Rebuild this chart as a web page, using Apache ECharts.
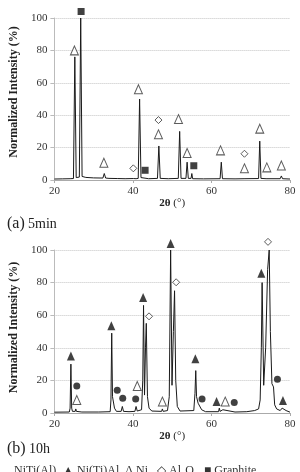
<!DOCTYPE html>
<html>
<head>
<meta charset="utf-8">
<script src="https://cdn.jsdelivr.net/npm/echarts@6/dist/echarts.min.js"></script>
<style>
  html, body { margin: 0; padding: 0; background: #fff; }
  #chart { width: 300px; height: 472px; }
</style>
</head>
<body>
<div id="chart"></div>
<script>
// pattern (a) 5 min : [2theta, intensity %]
const scan5min = [
  [20, 0.6], [22, 0.7], [24, 0.8], [24.85, 0.9], [25.2, 76], [25.55, 1.5], [26.35, 1.8],
  [26.7, 100], [27.05, 2.2], [28, 1.6], [30, 1.3], [32.35, 1.2], [32.7, 4], [33.05, 1.2],
  [33.9, 1], [34.1, 1.8], [34.3, 1], [36, 0.9], [38, 0.8], [40.2, 0.9], [40.5, 2], [40.8, 0.8],
  [41.35, 1], [41.7, 50], [42.05, 1.5], [44, 0.8], [46.25, 1], [46.6, 21], [46.95, 1],
  [49, 0.8], [51.55, 1], [51.9, 30], [52.25, 1], [53.5, 1], [53.8, 11], [54.1, 1],
  [54.8, 1], [55.0, 4], [55.2, 0.8], [58, 0.7], [62.2, 0.8], [62.5, 11], [62.8, 0.8],
  [66, 0.7], [68.3, 0.8], [68.5, 1.5], [68.7, 0.8], [72.0, 0.9], [72.3, 24], [72.6, 1],
  [73.9, 0.8], [74.1, 2], [74.3, 0.8], [77.5, 0.8], [77.8, 2.5], [78.1, 0.8], [80, 0.6]
];

// pattern (b) 10 h
const scan10h = [
  [20, 0.5], [23.8, 0.6], [24.0, 3], [24.2, 30], [24.4, 3], [24.6, 1], [25.3, 1], [25.45, 2.5],
  [25.6, 1], [27, 0.6], [31.3, 0.6], [31.5, 1.2], [31.7, 0.5], [34.2, 0.8], [34.4, 8],
  [34.6, 49], [34.8, 10], [35.0, 9], [35.3, 3], [35.8, 1], [37.0, 1], [37.3, 4], [37.6, 1],
  [39, 0.8], [40.5, 1], [40.8, 4], [41.1, 1.2], [42.2, 2], [42.5, 20], [42.7, 66], [42.95, 11],
  [43.2, 40], [43.4, 55], [43.7, 10], [44.1, 3], [44.8, 1.2], [47.3, 1], [47.5, 2.5], [47.7, 1],
  [48.8, 1.5], [49.25, 10], [49.6, 100], [49.95, 17], [50.3, 50], [50.6, 75], [50.9, 20],
  [51.3, 4], [52, 1.2], [55.5, 1.5], [55.8, 12], [56.0, 26], [56.2, 10], [56.6, 6], [57.1, 5],
  [57.5, 2], [58.5, 0.8], [61.8, 0.8], [62.0, 3], [62.2, 1], [62.7, 0.8], [62.9, 2], [63.1, 0.8],
  [66, 0.6], [69, 0.8], [71, 1.5], [72, 2.5], [72.4, 8], [72.7, 40], [72.9, 80], [73.3, 17],
  [73.8, 40], [74.3, 88], [74.7, 100], [75.0, 50], [75.4, 18], [75.8, 16], [76.1, 5],
  [76.6, 2.5], [77.5, 1.5], [78, 3], [78.3, 2], [79, 1.5], [80, 0.5]
];

// phase markers, (a)
const openTriangleA = [[25.1, 80], [32.6, 10.7], [41.4, 56], [46.5, 28.2], [51.6, 37.6], [53.8, 16.7],
  [62.3, 18.3], [68.4, 7.2], [72.3, 31.7], [74.1, 7.8], [77.8, 9]];
const squareA = [[26.8, 104], [43.1, 6], [55.5, 8.8]];
const diamondA = [[40.1, 7.2], [46.5, 37], [68.4, 16.2]];

// phase markers, (b)
const filledTriangleB = [[24.2, 35], [34.5, 53.6], [42.6, 70.8], [49.6, 104], [55.9, 33.3],
  [61.3, 7], [72.7, 85.7], [78.2, 7.6]];
const circleB = [[25.7, 16.6], [36.0, 13.9], [37.4, 9], [40.7, 8.6], [57.6, 8.6], [65.8, 6.5], [76.8, 20.7]];
const openTriangleB = [[25.7, 8], [41.1, 16.6], [47.5, 7], [63.5, 7]];
const diamondB = [[44.1, 59.3], [51.0, 80.2], [74.4, 105]];

const xTicks = { min: 20, max: 80, interval: 20 };
const yTicks = { min: 0, max: 100, interval: 20 };

const serif = "Liberation Serif";
const chart = echarts.init(document.getElementById("chart"));

const makeX = (gi) => ({
  type: "value", gridIndex: gi, ...xTicks,
  name: "{b|2θ} (°)", nameLocation: "middle", nameGap: 17,
  nameTextStyle: { fontFamily: serif, fontSize: 11, color: "#222",
    rich: { b: { fontFamily: serif, fontSize: 11, fontWeight: "bold", color: "#222" } } },
  axisLine: { lineStyle: { color: "#aaa", width: 1 } },
  axisTick: { show: true, length: 3, lineStyle: { color: "#aaa" } },
  axisLabel: { fontFamily: serif, fontSize: 11, color: "#333", margin: 6 },
  splitLine: { show: false }
});

const makeY = (gi, pad) => ({
  type: "value", gridIndex: gi, ...yTicks,
  name: "Normalized Intensity (%)", nameLocation: "middle", nameGap: 31,
  nameTextStyle: { fontFamily: serif, fontSize: 12, fontWeight: "bold", color: "#222", padding: [0, 0, 0, pad] },
  axisLine: { show: true, lineStyle: { color: "#bbb", width: 1 } },
  axisTick: { show: true, length: 4, lineStyle: { color: "#bbb" } },
  axisLabel: { fontFamily: serif, fontSize: 11, color: "#333", margin: 7 },
  splitLine: { show: true, lineStyle: { color: "#c4c4c4", type: "dotted", width: 1 } }
});

const line = (gi, data) => ({
  type: "line", xAxisIndex: gi, yAxisIndex: gi, data, symbol: "none",
  lineStyle: { color: "#1a1a1a", width: 1 }, silent: true, z: 2
});

const marks = (gi, data, symbol, size, filled) => ({
  type: "scatter", xAxisIndex: gi, yAxisIndex: gi, data, symbol, symbolSize: size, clip: false,
  itemStyle: filled ? { color: "#111" } : { color: "#fff", borderColor: "#333", borderWidth: 1 },
  silent: true, z: 5
});

chart.setOption({
  animation: false,
  grid: [
    { left: 46, right: 10, top: 18, height: 162 },
    { left: 46, right: 10, top: 250, height: 163 }
  ],
  xAxis: [makeX(0), makeX(1)],
  yAxis: [makeY(0, 14), makeY(1, 8)],
  series: [
    line(0, scan5min),
    marks(0, openTriangleA, "triangle", [8, 9], false),
    marks(0, squareA, "rect", 7, true),
    marks(0, diamondA, "diamond", 7, false),
    line(1, scan10h),
    marks(1, filledTriangleB, "triangle", [8, 9], true),
    marks(1, circleB, "circle", 7, true),
    marks(1, openTriangleB, "triangle", [8, 9], false),
    marks(1, diamondB, "diamond", 7, false)
  ],
  graphic: [
    { type: "text", left: 7, top: 216,
      style: { text: "{p|(a)} {t|5min}", rich: {
        p: { fontFamily: serif, fontSize: 16, fill: "#222" },
        t: { fontFamily: serif, fontSize: 14, fill: "#222" } } } },
    { type: "text", left: 7, top: 441,
      style: { text: "{p|(b)} {t|10h}", rich: {
        p: { fontFamily: serif, fontSize: 16, fill: "#222" },
        t: { fontFamily: serif, fontSize: 14, fill: "#222" } } } },
    { type: "text", left: 14, top: 465,
      style: { text: "NiTi(Al)  ▲ Ni(Ti)Al  Δ Ni   ◇ Al₂O₃  ■ Graphite",
        fontFamily: serif, fontSize: 12, fill: "#333" } }
  ]
});
</script>
</body>
</html>
